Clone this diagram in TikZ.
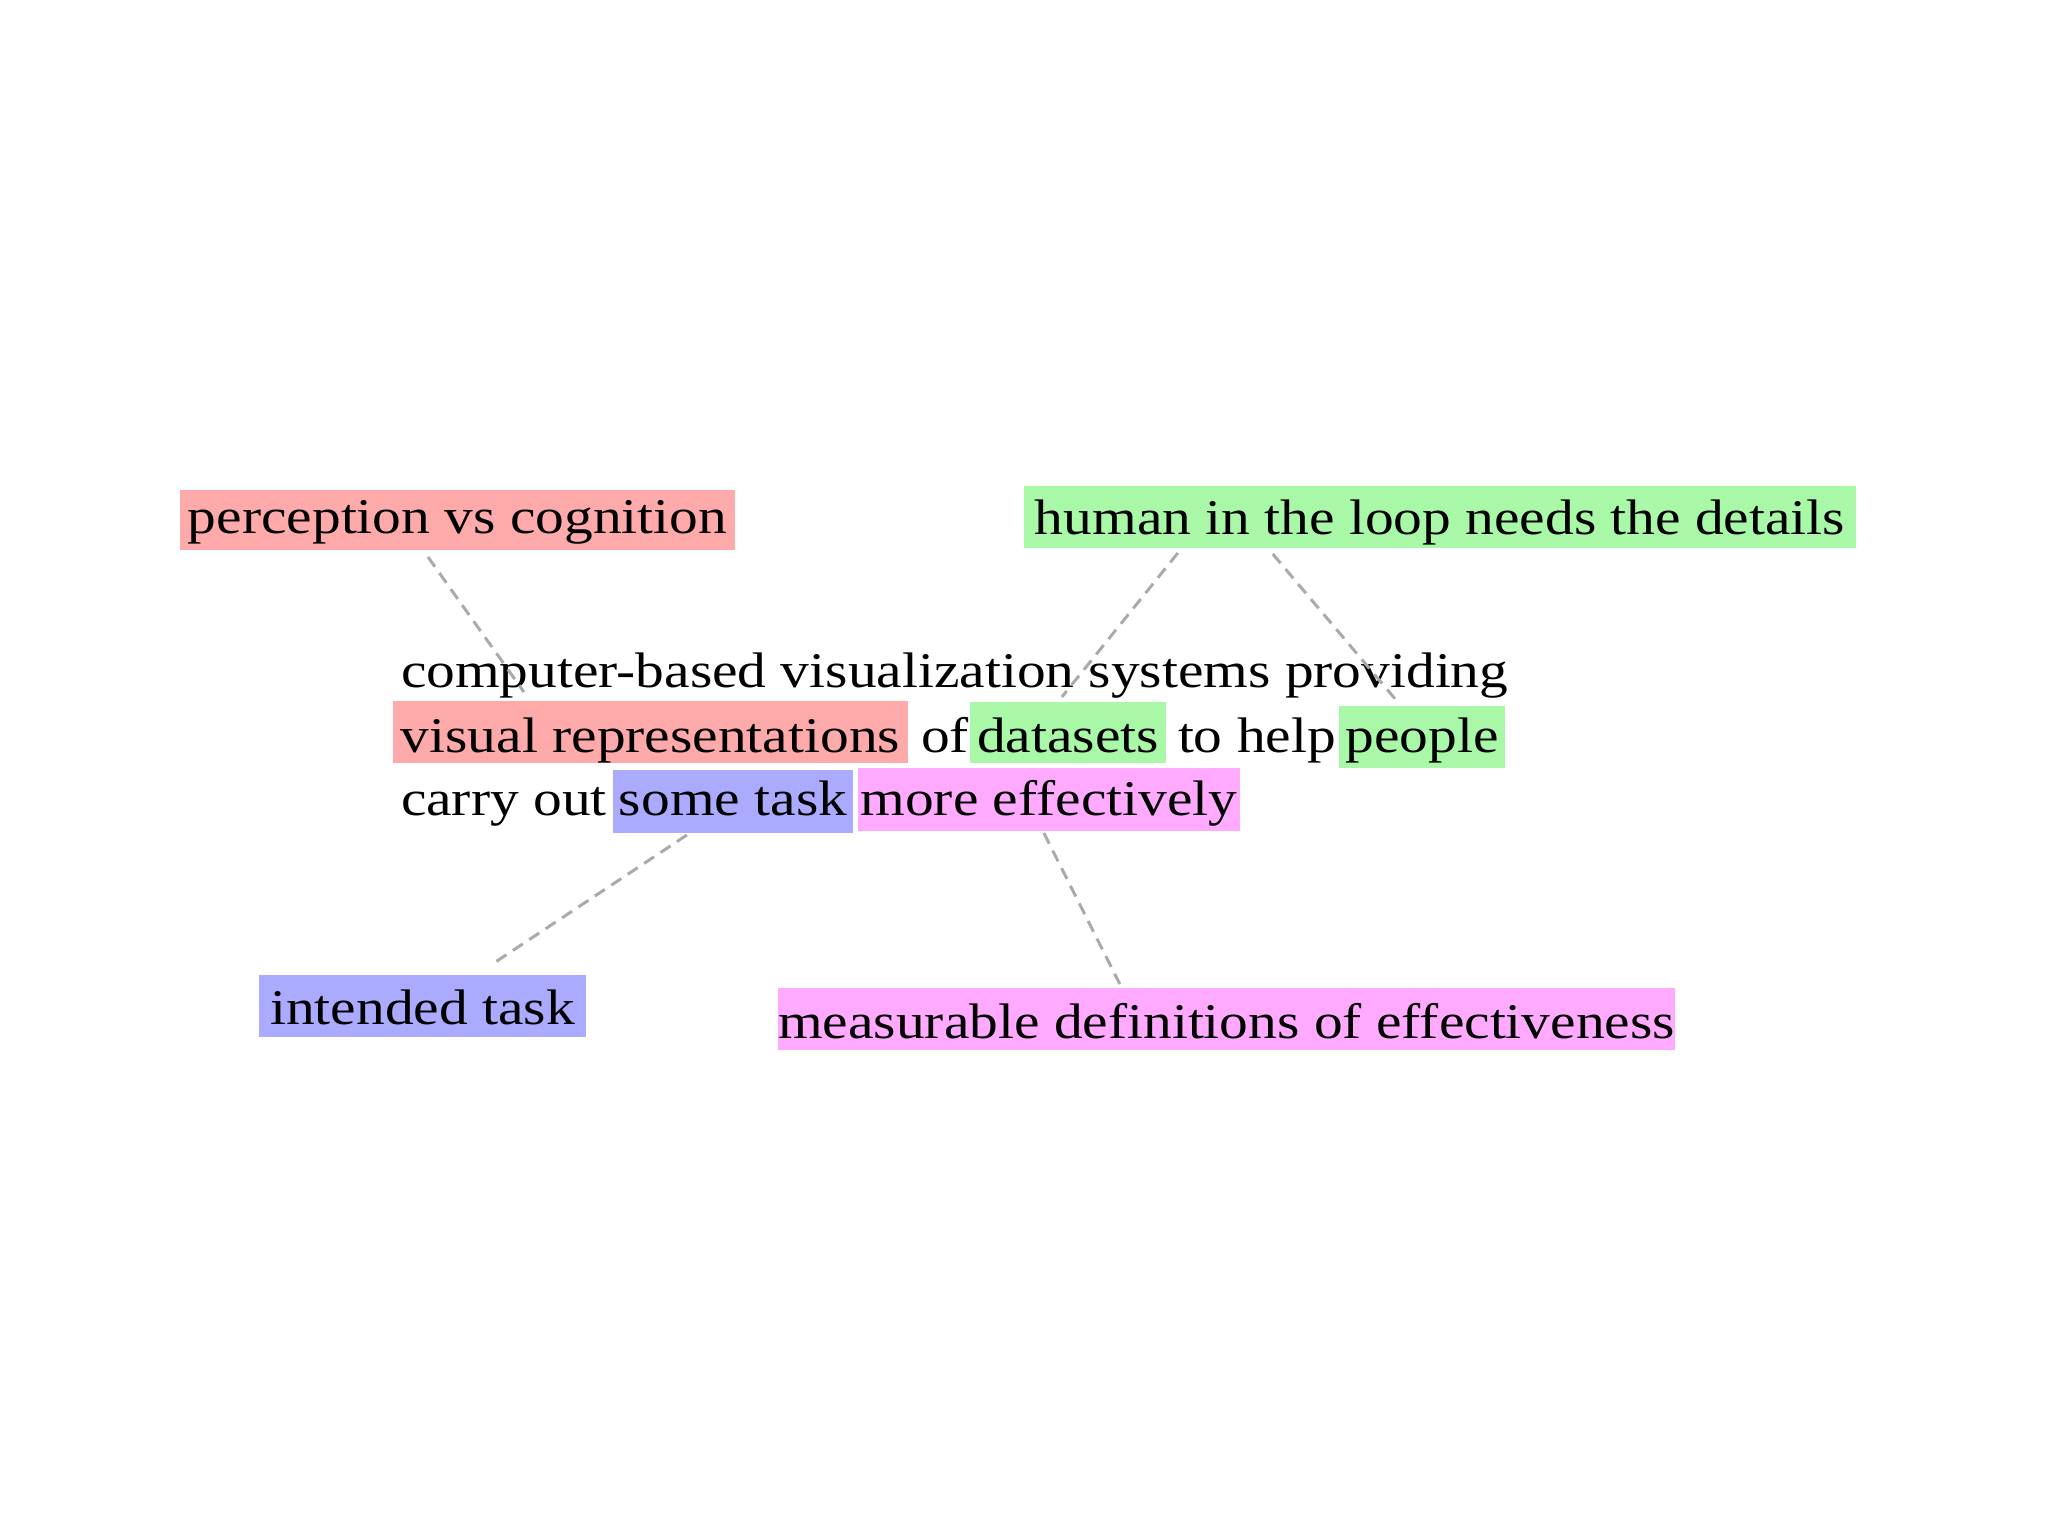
\documentclass[tikz,border=0pt]{standalone}
\usepackage{fontspec}
\setmainfont{Liberation Serif}[FakeStretch=1.15]
\usetikzlibrary{calc}
\definecolor{hlred}{RGB}{255,170,170}
\definecolor{hlgreen}{RGB}{168,248,168}
\definecolor{hlblue}{RGB}{170,170,255}
\definecolor{hlmag}{RGB}{255,170,255}
\definecolor{linkgray}{RGB}{170,170,170}
\tikzset{
  hl/.style={fill=#1, inner sep=0pt, outer sep=0pt, anchor=center, font=\fontsize{14.2}{16}\selectfont},
  plain/.style={inner sep=0pt, outer sep=0pt, anchor=base west, font=\fontsize{14.2}{16}\selectfont},
  link/.style={draw=linkgray, line width=0.85pt, dash pattern=on 3.4pt off 2.2pt},
}
\begin{document}
\begin{tikzpicture}[x=0.01cm, y=-0.01cm]
\useasboundingbox[fill=white] (0,0) rectangle (2048,1536);
% top labels
\node[hl=hlred, minimum width=157.9pt, text height=12.23pt, text depth=4.84pt] (perc) at (457.5,520) {perception vs cognition};
\node[hl=hlgreen, minimum width=236.7pt, text height=13.66pt, text depth=3.98pt] (human) at (1440,517) {human in the loop needs the details};
% paragraph
\node[plain] (line1) at (401,687) {computer-based visualization systems providing};
\node[hl=hlred, minimum width=146.5pt, text height=14.51pt, text depth=3.13pt] (visrep) at (650.5,732) {visual representations};
\node[plain] (of) at (921,752) {of};
\node[hl=hlgreen, minimum width=55.8pt, text height=14.23pt, text depth=3.13pt] (datasets) at (1068,732.5) {datasets};
\node[plain] (tohelp) at (1178,752) {to help};
\node[hl=hlgreen, minimum width=47.2pt, text height=13.09pt, text depth=4.55pt] (people) at (1422,737) {people};
\node[plain] (carry) at (401,815) {carry out};
\node[hl=hlblue, minimum width=68.3pt, text height=12.8pt, text depth=5.12pt] (sometask) at (733,801.5) {some task};
\node[hl=hlmag, minimum width=108.7pt, text height=13.37pt, text depth=4.55pt] (moreeff) at (1049,799.5) {more effectively};
% bottom labels
\node[hl=hlblue, minimum width=93.0pt, text height=13.94pt, text depth=3.70pt] (intended) at (422.5,1006) {intended task};
\node[hl=hlmag, minimum width=255.2pt, text height=14.23pt, text depth=3.41pt] (measure) at (1226.5,1019) {measurable definitions of effectiveness};
% connector end points
\coordinate (percA) at ($(perc.south)+(-29.5,7)$);
\coordinate (percB) at ($(visrep.north west)+(131,-9)$);
\coordinate (humA) at ($(human.south west)+(154,5)$);
\coordinate (humB) at ($(datasets.north west)+(92,-5)$);
\coordinate (humC) at ($(human.south west)+(249,6)$);
\coordinate (humD) at ($(people.north west)+(57,-6)$);
\coordinate (taskA) at ($(sometask.south west)+(74,2)$);
\coordinate (taskB) at ($(intended.north west)+(235,-12)$);
\coordinate (effA) at ($(moreeff.south west)+(186,2)$);
\coordinate (effB) at ($(measure.north west)+(342,-4)$);
\draw[link] (percA) -- (percB);
\draw[link] (humA) -- (humB);
\draw[link] (humC) -- (humD);
\draw[link] (taskA) -- (taskB);
\draw[link] (effA) -- (effB);
\end{tikzpicture}
\end{document}
